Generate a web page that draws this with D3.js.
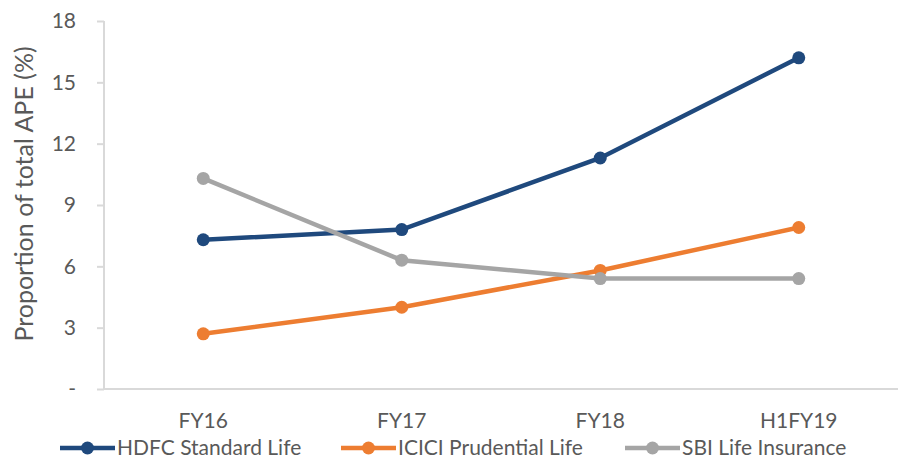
<!DOCTYPE html>
<html>
<head>
<meta charset="utf-8">
<script src="https://cdn.jsdelivr.net/npm/d3@7/dist/d3.min.js"></script>
<style>
  body { margin: 0; background: #fff; }
  text { font-family: Lato, "Open Sans", sans-serif; fill: #595959; }
</style>
</head>
<body>
<svg width="903" height="461"></svg>
<script>
// categories and series values
var categories = ['FY16', 'FY17', 'FY18', 'H1FY19'];
var hdfc = [7.3, 7.8, 11.3, 16.2];
var icici = [2.7, 4.0, 5.8, 7.9];
var sbi = [10.3, 6.3, 5.4, 5.4];
var yTicks = [0, 3, 6, 9, 12, 15, 18];

var series = [
  {name: 'HDFC Standard Life', values: hdfc, color: '#1f497d'},
  {name: 'ICICI Prudential Life', values: icici, color: '#ed7d31'},
  {name: 'SBI Life Insurance', values: sbi, color: '#a5a5a5'}
];

var margin = {top: 21, right: 5, bottom: 72, left: 104};
var width = 903 - margin.left - margin.right;
var height = 461 - margin.top - margin.bottom;

var svg = d3.select('svg')
  .append('g')
  .attr('transform', 'translate(' + margin.left + ',' + margin.top + ')');

var x = d3.scaleBand().domain(categories).range([0, width]);
var y = d3.scaleLinear().domain([0, 18]).range([height, 0]);

// y axis
var yAxis = svg.append('g')
  .call(d3.axisLeft(y).tickValues(yTicks).tickSize(7).tickPadding(21)
    .tickFormat(function(d) { return d === 0 ? '-' : d; }));
yAxis.selectAll('line, path').attr('stroke', '#d9d9d9').attr('stroke-width', 2);
yAxis.select('.domain').attr('d', 'M0,0V' + height);
yAxis.selectAll('text').style('font-size', '21px').attr('fill', '#595959');

// x axis
var xAxis = svg.append('g')
  .attr('transform', 'translate(0,' + height + ')')
  .call(d3.axisBottom(x).tickSize(0).tickPadding(24));
xAxis.select('.domain').attr('stroke', '#d9d9d9').attr('stroke-width', 2)
  .attr('d', 'M0,0H' + width);
xAxis.selectAll('text').style('font-size', '21px').attr('fill', '#595959');

// y axis title
svg.append('text')
  .attr('transform', 'translate(-71,' + (height / 2 - 11) + ') rotate(-90)')
  .attr('text-anchor', 'middle')
  .style('font-size', '25px')
  .text('Proportion of total APE (%)');

var line = d3.line()
  .x(function(d, i) { return x(categories[i]) + x.bandwidth() / 2; })
  .y(function(d) { return y(d); });

series.forEach(function(s) {
  svg.append('path')
    .datum(s.values)
    .attr('fill', 'none')
    .attr('stroke', s.color)
    .attr('stroke-width', 4.5)
    .attr('d', line);
  svg.selectAll(null)
    .data(s.values)
    .enter().append('circle')
    .attr('cx', function(d, i) { return x(categories[i]) + x.bandwidth() / 2; })
    .attr('cy', function(d) { return y(d); })
    .attr('r', 6.5)
    .attr('fill', s.color);
});

// legend
var legendX = [60, 341, 625];
var legend = d3.select('svg').selectAll('.legend')
  .data(series)
  .enter().append('g')
  .attr('class', 'legend')
  .attr('transform', function(d, i) { return 'translate(' + legendX[i] + ',448)'; });
legend.append('line')
  .attr('x1', 0).attr('x2', 55)
  .attr('stroke', function(d) { return d.color; })
  .attr('stroke-width', 4.5);
legend.append('circle')
  .attr('cx', 27.5).attr('r', 6.5)
  .attr('fill', function(d) { return d.color; });
legend.append('text')
  .attr('x', 57).attr('dy', '0.35em')
  .style('font-size', '21px')
  .text(function(d) { return d.name; });
</script>
</body>
</html>
